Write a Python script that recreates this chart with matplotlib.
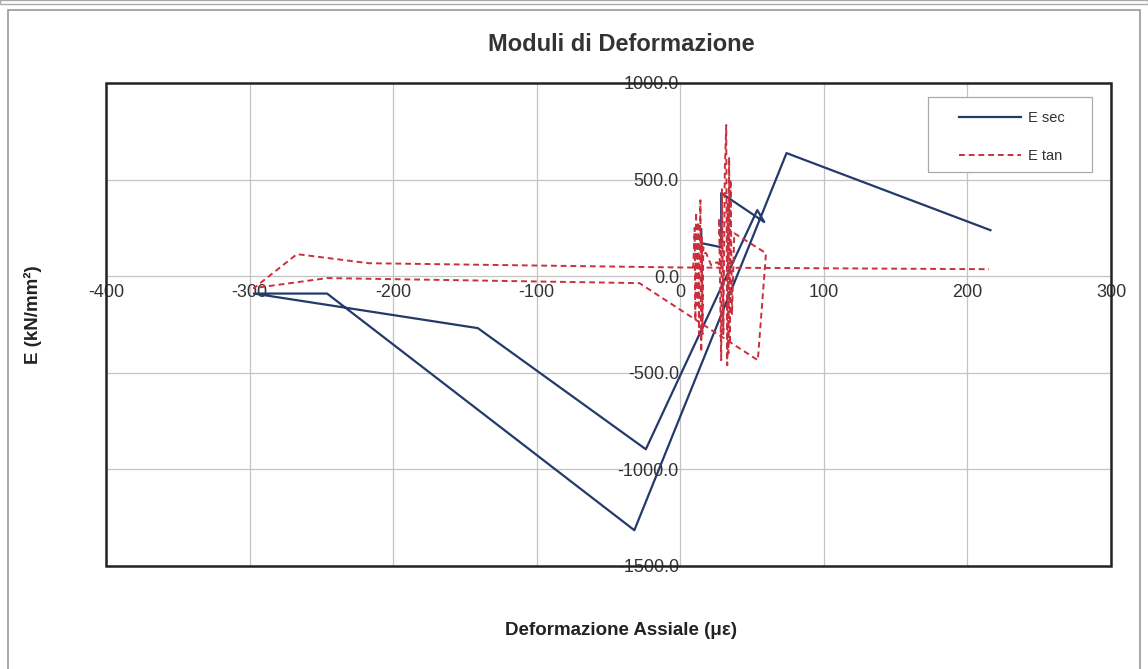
import matplotlib
matplotlib.use('Agg')
import matplotlib.pyplot as plt
from matplotlib.patches import Rectangle

plt.rcParams['font.family'] = ['Liberation Sans', 'DejaVu Sans']
plt.rcParams['axes.unicode_minus'] = False

# E sec (secant modulus) vs axial strain
strain_sec = [14.6, 14.6, 28.5, 28.5, 58.5, 53.6, -24, -141, -297, -246, -32, 74, 216]
e_sec = [243, 171, 150, 430, 280, 342, -896, -269, -90, -90, -1315, 637, 238]

# E tan (tangent modulus) vs axial strain
strain_tan = [9, 10, 10.5, 11, 12, 12.5, 13, 14, 14.6, 15, 15.5, 16, 17,
              18, 21.5, 25.7, 28.5,
              27, 28.5, 29, 30, 31, 32, 32.7, 33, 33.5, 34, 34.6, 35, 36, 37.6,
              59.7, 54, -28.5, -246, -297, -267, -217, -100, 0, 215]
e_tan = [40, 250, -228, 330, -150, 280, -300, 393, -393, 200, -300, 150, 120,
         119, 57, 72, 47,
         300, -435, 450, -300, 550, 782, -461, 380, -400, 616, -350, 500, -200, 222,
         119, -435, -36, -10, -62, 114, 67, 55, 45, 36]

x_ticks = [-400, -300, -200, -100, 0, 100, 200, 300]
y_ticks = [-1500, -1000, -500, 0, 500, 1000]

fig = plt.figure(figsize=(11.48, 6.69), dpi=100)
ax = fig.add_axes([0.0923, 0.154, 0.8755, 0.722])

blue = '#243a6b'
red = '#c8303e'

ax.plot(strain_sec, e_sec, color=blue, linewidth=1.6, label='E sec')
ax.plot(strain_tan, e_tan, color=red, linewidth=1.4, linestyle=(0, (3, 2)),
        label='E tan')

ax.set_xlim(-400, 300)
ax.set_ylim(-1500, 1000)
ax.set_xticks(x_ticks)
ax.set_yticks(y_ticks)
ax.set_yticklabels([f'{v:.1f}' for v in y_ticks])
ax.grid(True, color='#c4c4c4', linewidth=0.9)
ax.set_axisbelow(True)

# axes cross at the origin, frame drawn separately
ax.spines['left'].set_position(('data', 0))
ax.spines['bottom'].set_position(('data', 0))
for s in ['left', 'bottom', 'right', 'top']:
    ax.spines[s].set_visible(False)
ax.tick_params(length=0, labelsize=13, colors='#333333', pad=1)
ax.tick_params(axis='x', pad=6)
ax.add_patch(Rectangle((0, 0), 1, 1, transform=ax.transAxes, fill=False,
                       edgecolor='#222222', linewidth=1.8, zorder=5, clip_on=False))

# legend: entries without frame, box drawn as its own patch
leg = ax.legend(loc='upper left', bbox_to_anchor=(0.849, 0.942), borderaxespad=0,
                borderpad=0, fontsize=10.5, handlelength=4.2, labelspacing=1.65,
                frameon=False, handletextpad=0.5)
for t in leg.get_texts():
    t.set_color('#333333')
ax.add_patch(Rectangle((0.818, 0.816), 0.163, 0.155, transform=ax.transAxes,
                       facecolor='white', edgecolor='#aaaaaa', linewidth=0.9,
                       zorder=4))

fig.text(0.541, 0.933, 'Moduli di Deformazione', ha='center', va='center',
         fontsize=17, fontweight='bold', color='#333333')
fig.text(0.541, 0.058, 'Deformazione Assiale (\u03bc\u03b5)', ha='center', va='center',
         fontsize=13.5, fontweight='bold', color='#222222')
fig.text(0.029, 0.529, 'E (kN/mm\u00b2)', ha='center', va='center', rotation=90,
         fontsize=13.5, fontweight='bold', color='#222222')

# page border of the scanned sheet
fig.add_artist(Rectangle((8 / 1148, -0.01), 1132 / 1148, 1 - 10 / 669 + 0.01,
                         transform=fig.transFigure, fill=False,
                         edgecolor='#999999', linewidth=1.2))
fig.add_artist(Rectangle((0, 1 - 4 / 669), 1, 4 / 669, transform=fig.transFigure,
                         fill=False, edgecolor='#aaaaaa', linewidth=1.0))

fig.savefig('out.png', dpi=100)
